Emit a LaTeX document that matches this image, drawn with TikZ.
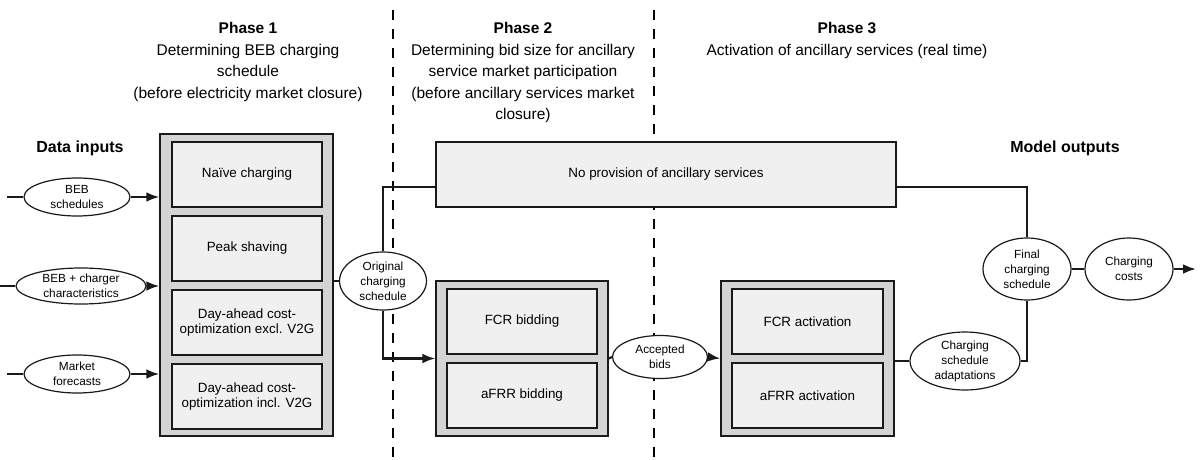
\documentclass[tikz,border=0pt]{standalone}
\usepackage{fontspec}
\setmainfont{Liberation Sans}
\usepackage{tikz}
\usetikzlibrary{arrows.meta,positioning,calc,shapes.geometric}
\definecolor{PanelGray}{HTML}{D4D4D4}
\definecolor{CellGray}{HTML}{F0F0F0}
\definecolor{LineBlack}{HTML}{1A1A1A}

\begin{document}
\begin{tikzpicture}[x=1pt,y=-1pt,>=Latex,
  font=\fontsize{13.4}{15}\selectfont,
  panel/.style={draw=LineBlack,line width=1.3pt,fill=PanelGray,minimum width=173pt,minimum height=155pt},
  cell/.style={draw=LineBlack,line width=1.6pt,fill=CellGray,minimum width=150pt,minimum height=65pt,align=center},
  blob/.style={ellipse,draw=LineBlack,line width=1.2pt,fill=white,inner sep=0pt,align=center,
        font=\fontsize{11.8}{15}\selectfont},
  link/.style={line width=2.2pt,LineBlack},
  phaseline/.style={line width=2.2pt,dash pattern=on 10pt off 9pt},
  head/.style={align=center,anchor=north,font=\fontsize{15.5}{21.5}\selectfont}]
  \useasboundingbox (0,0) rectangle (1200,460);

  % phase separators
  \draw[phaseline] (393,10) -- (393,460);
  \draw[phaseline] (654,10) -- (654,460);

  % headings
  \node[head] (h1) at (248,19) {\textbf{Phase 1}\\Determining BEB charging\\schedule\\(before electricity market closure)};
  \node[head] (h2) at (523,19) {\textbf{Phase 2}\\Determining bid size for ancillary\\service market participation\\(before ancillary services market\\closure)};
  \node[head] (h3) at (847,19) {\textbf{Phase 3}\\Activation of ancillary services (real time)};
  \node[font=\fontsize{16}{18}\selectfont\bfseries] (din) at (80,148) {Data inputs};
  \node[font=\fontsize{16}{18}\selectfont\bfseries] (dout) at (1065,148) {Model outputs};

  % phase 1
  \node[panel,minimum height=302pt] (p1) at (246.5,285) {};
  \node[cell] (naive) at (247,174.5) {Naïve charging};
  \node[cell] (peak) at (247,248.5) {Peak shaving};
  \node[cell] (excl) at (247,322.5) {Day-ahead cost-\\optimization excl. V2G};
  \node[cell] (incl) at (247,396.5) {Day-ahead cost-\\optimization incl. V2G};

  % data inputs
  \node[blob,minimum width=106pt,minimum height=38pt] (in1) at (77,197) {BEB\\schedules};
  \node[blob,minimum width=130pt,minimum height=36pt] (in2) at (81,286) {BEB + charger\\characteristics};
  \node[blob,minimum width=106pt,minimum height=38pt] (in3) at (77,374) {Market\\forecasts};
  \foreach \i in {1,2,3} {
    \coordinate (s\i) at ($(in\i.west)+(-16,0)$);
    \draw[link] (s\i) -- (in\i.west);
    \draw[link,->] (in\i.east) -- (in\i.east -| p1.west);
  }

  % phase 2
  \node[blob,minimum width=87pt,minimum height=58pt] (orig) at (383,281) {Original\\charging\\schedule};
  \node[draw=LineBlack,line width=1.6pt,fill=CellGray,minimum width=460pt,minimum height=65pt] (noas) at (666,174.5) {No provision of ancillary services};
  \node[panel,minimum width=172pt] (p2) at (522,358.5) {};
  \node[cell] (fcrb) at (522,321.5) {FCR bidding};
  \node[cell] (afrrb) at (522,395.5) {aFRR bidding};
  \node[blob,minimum width=95pt,minimum height=43pt] (acc) at (660,357) {Accepted\\bids};

  % phase 3
  \node[panel] (p3) at (807.5,358.5) {};
  \node[cell,minimum width=151pt] (fcra) at (807.5,321.5) {FCR activation};
  \node[cell,minimum width=151pt] (afrra) at (807.5,395.5) {aFRR activation};
  \node[blob,minimum width=110pt,minimum height=56pt] (adapt) at (965,361) {Charging\\schedule\\adaptations};

  % outputs
  \node[blob,minimum width=88pt,minimum height=62pt] (final) at (1027,269) {Final\\charging\\schedule};
  \node[blob,minimum width=88pt,minimum height=62pt] (costs) at (1129,269) {Charging\\costs};
  \coordinate (out) at (1196,269);

  % connectors
  \draw[link] (orig.west -| p1.east) -- (orig.west);
  \draw[link] (orig.north) |- ([yshift=-12.5pt]noas.west);
  \draw[link,->] (orig.south) |- (p2.west);
  \draw[link] (p2.east) -- (acc.west);
  \draw[link,->] (acc.east) -- (p3.west);
  \draw[link] (adapt.west -| p3.east) -- (adapt.west);
  \draw[link] (adapt.east) -| (final.south);
  \draw[link] ([yshift=-12.5pt]noas.east) -| (final.north);
  \draw[link] (final.east) -- (costs.west);
  \draw[link,->] (costs.east) -- (out);
\end{tikzpicture}
\end{document}
